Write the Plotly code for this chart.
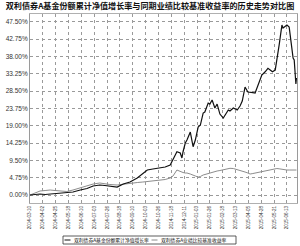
import plotly.graph_objects as go

title = "双利债券A基金份额累计净值增长率与同期业绩比较基准收益率的历史走势对比图"
name_fund = "双利债券A基金份额累计净值增长率"
name_bench = "双利债券A业绩比较基准收益率"

dates = [
    "2014-03-10", "2014-03-19", "2014-03-28", "2014-04-06", "2014-04-15", "2014-04-24",
    "2014-05-03", "2014-05-15", "2014-05-26", "2014-06-08", "2014-06-20", "2014-07-01",
    "2014-07-13", "2014-07-22", "2014-07-31", "2014-08-13", "2014-08-24", "2014-09-05",
    "2014-09-18", "2014-09-28", "2014-10-06", "2014-10-16", "2014-10-29", "2014-11-07",
    "2014-11-16", "2014-11-21", "2014-11-28", "2014-12-04", "2014-12-07", "2014-12-09",
    "2014-12-13", "2014-12-16", "2014-12-22", "2014-12-27", "2014-12-31", "2015-01-05",
    "2015-01-09", "2015-01-14", "2015-01-17", "2015-01-23", "2015-01-26", "2015-01-30",
    "2015-02-04", "2015-02-08", "2015-02-13", "2015-02-19", "2015-02-24", "2015-02-28",
    "2015-03-03", "2015-03-09", "2015-03-16", "2015-03-21", "2015-03-25", "2015-03-30",
    "2015-04-04", "2015-04-08", "2015-04-13", "2015-04-17", "2015-04-22", "2015-04-26",
    "2015-04-29", "2015-05-05", "2015-05-10", "2015-05-14", "2015-05-18", "2015-05-23",
    "2015-05-26", "2015-05-30", "2015-06-01", "2015-06-04", "2015-06-06", "2015-06-10",
    "2015-06-13", "2015-06-17", "2015-06-20", "2015-06-24", "2015-06-26", "2015-06-27",
    "2015-06-29", "2015-06-30",
]

fund = [
    0.00, 0.14, 0.27, 0.14, 0.27, 0.41, 0.41, 0.55, 0.82, 1.37, 1.78, 2.47,
    2.74, 2.60, 2.47, 2.19, 3.01, 3.56, 4.66, 5.75, 6.85, 7.12, 7.40, 7.67,
    8.22, 9.59, 11.86, 11.51, 10.14, 11.86, 14.25, 15.07, 17.26, 13.23, 15.07, 18.63,
    19.18, 22.47, 22.74, 25.21, 24.93, 26.03, 23.84, 24.93, 22.19, 21.10, 22.47, 23.29,
    23.01, 23.84, 23.29, 24.38, 25.75, 29.59, 28.22, 28.22, 28.08, 27.95, 30.14, 31.51,
    32.88, 33.78, 34.71, 34.25, 33.78, 34.25, 37.81, 41.10, 43.29, 46.58, 45.75, 46.30,
    46.58, 46.03, 41.64, 37.53, 36.99, 33.70, 30.41, 32.05,
]

bench = [
    0.00, 0.55, 1.10, 1.23, 1.37, 1.23, 1.10, 0.96, 1.37, 1.92, 2.47, 3.01,
    3.29, 3.01, 2.88, 2.74, 3.01, 3.21, 3.42, 3.56, 3.70, 3.84, 3.97, 4.25,
    4.66, 5.21, 6.85, 6.38, 6.30, 6.16, 6.03, 6.03, 5.75, 5.34, 5.21, 4.93,
    5.07, 5.48, 5.62, 5.89, 6.03, 6.30, 6.44, 6.58, 6.71, 6.85, 7.12, 7.26,
    7.32, 7.26, 6.99, 6.85, 6.58, 6.30, 6.03, 5.75, 5.89, 6.03, 6.16, 6.30,
    6.44, 6.58, 6.85, 6.99, 7.12, 7.32, 7.26, 7.18, 7.12, 6.99, 6.99, 6.85,
    6.85, 6.85, 6.85, 6.85, 6.85, 6.85, 6.85, 6.85,
]

x_ticks = [
    "2014-03-10", "2014-04-02", "2014-04-25", "2014-05-18", "2014-06-10", "2014-07-03",
    "2014-07-26", "2014-08-18", "2014-09-10", "2014-10-03", "2014-10-26", "2014-11-18",
    "2014-12-11", "2015-01-03", "2015-01-26", "2015-02-18", "2015-03-13", "2015-04-05",
    "2015-04-28", "2015-05-21", "2015-06-13",
]
y_ticks = [0.0, 4.75, 9.5, 14.25, 19.0, 23.75, 28.5, 33.25, 38.0, 42.75, 47.5]
y_labels = ["%.2f%%" % v for v in y_ticks]

fig = go.Figure()
fig.add_trace(go.Scatter(x=dates, y=bench, mode="lines", name=name_bench,
                         line=dict(color="#8c8c8c", width=1)))
fig.add_trace(go.Scatter(x=dates, y=fund, mode="lines", name=name_fund,
                         line=dict(color="#111111", width=1.2)))

fig.update_layout(
    width=300, height=246,
    margin=dict(l=30, r=3, t=14, b=43),
    paper_bgcolor="white", plot_bgcolor="white",
    showlegend=False,
    font=dict(family="Liberation Sans, Arial, sans-serif", color="#333"),
    title=dict(text="<b>" + title + "</b>", x=0.5, xanchor="center", y=0.988, yanchor="top",
               font=dict(family="Noto Sans CJK SC", size=8.1, color="#111")),
)
fig.update_xaxes(
    type="date", range=["2014-03-10", "2015-07-01"],
    tickvals=x_ticks, ticktext=x_ticks, tickangle=-90,
    tickfont=dict(size=4.6, color="#333"),
    showgrid=True, gridcolor="#9a9a9a", griddash="dot", gridwidth=1,
    showline=True, linecolor="#b0b0b0", mirror=True, ticks="", zeroline=False,
)
fig.update_yaxes(
    range=[-2.19, 49.61], tickvals=y_ticks, ticktext=y_labels,
    tickfont=dict(size=6.5, color="#333"),
    showgrid=True, gridcolor="#9a9a9a", griddash="dot", gridwidth=1,
    showline=True, linecolor="#9a9a9a", mirror=True, ticks="", zeroline=False,
)

# legend box (manual, compact)
def px(x):
    return (x - 30) / 267.0

def py(y):
    return (203 - y) / 189.0

fig.add_shape(type="rect", xref="paper", yref="paper", x0=px(63), x1=px(236), y0=py(236), y1=py(244),
              line=dict(color="#333", width=0.8), fillcolor="white")
fig.add_shape(type="line", xref="paper", yref="paper", x0=px(64.5), x1=px(70.5), y0=py(240), y1=py(240),
              line=dict(color="#111", width=1))
fig.add_shape(type="line", xref="paper", yref="paper", x0=px(151.5), x1=px(157.5), y0=py(240), y1=py(240),
              line=dict(color="#8c8c8c", width=1))
fig.add_annotation(xref="paper", yref="paper", x=px(71.5), y=py(240), text=name_fund, showarrow=False,
                   xanchor="left", yanchor="middle", font=dict(family="Noto Sans CJK SC", size=4.8, color="#111"))
fig.add_annotation(xref="paper", yref="paper", x=px(159), y=py(240), text=name_bench, showarrow=False,
                   xanchor="left", yanchor="middle", font=dict(family="Noto Sans CJK SC", size=4.8, color="#111"))

fig.write_html("out.html")
